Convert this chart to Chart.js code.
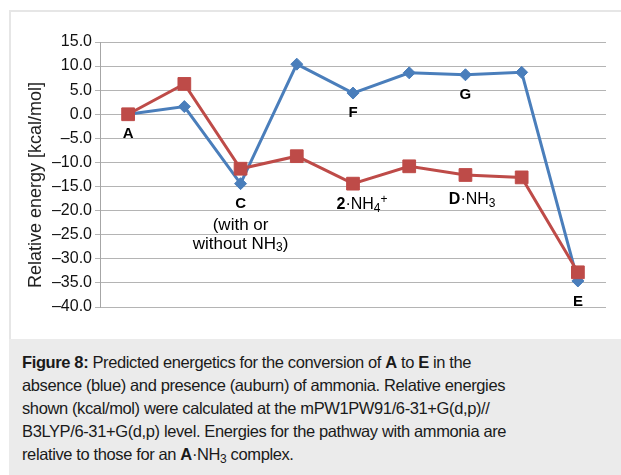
<!DOCTYPE html>
<html>
<head>
<meta charset="utf-8">
<script src="https://cdn.jsdelivr.net/npm/chart.js@4/dist/chart.umd.min.js"></script>
<style>
  body { margin: 0; background: #fff; width: 621px; height: 475px; overflow: hidden; position: relative; font-family: "Liberation Sans", Arial, sans-serif; }
  .panel { position: absolute; left: 9px; top: 10px; width: 612px; height: 329px; border-top: 2px solid #e6e6e6; border-left: 2px solid #e6e6e6; box-sizing: border-box; background: #fff; }
  .wrap { position: absolute; left: 0; top: 0; width: 621px; height: 339px; }
  .caption { position: absolute; left: 9px; top: 339px; width: 612px; height: 136px; background: #ebebeb; box-sizing: border-box; padding: 12px 0 0 13px; font-size: 16.5px; letter-spacing: -0.38px; line-height: 23px; color: #1a1a1a; }
  .caption sub { font-size: 12px; line-height: 0; vertical-align: -3px; }
</style>
</head>
<body>
<div class="panel"></div>
<div class="wrap"><canvas id="chart" width="621" height="339"></canvas></div>
<div class="caption">
  <b>Figure 8:</b> Predicted energetics for the conversion of <b>A</b> to <b>E</b> in the<br>
  absence (blue) and presence (auburn) of ammonia. Relative energies<br>
  shown (kcal/mol) were calculated at the mPW1PW91/6-31+G(d,p)//<br>
  B3LYP/6-31+G(d,p) level. Energies for the pathway with ammonia are<br>
  relative to those for an <b>A</b>·NH<sub>3</sub> complex.
</div>
<script>
const steps = ['1', '2', '3', '4', '5', '6', '7', '8', '9'];
const withoutNH3 = [0, 1.6, -14.4, 10.4, 4.4, 8.6, 8.2, 8.7, -34.6];
const withNH3 = [0, 6.3, -11.3, -8.7, -14.4, -10.8, -12.6, -13.1, -32.8];
const yTicks = [15, 10, 5, 0, -5, -10, -15, -20, -25, -30, -35, -40];

// point labels: text runs [text, style], category index, value (kcal/mol) of the text centre
const labelRuns = [
  [['A', 'b']],
  [['C', 'b']],
  [['(with or', '']],
  [['without NH', ''], ['3', 'sub'], [')', '']],
  [['F', 'b']],
  [['G', 'b']],
  [['2', 'b'], ['·NH', ''], ['4', 'sub'], ['+', 'sup']],
  [['D', 'b'], ['·NH', ''], ['3', 'sub']],
  [['E', 'b']]
];
const labelSize = [15, 15, 17, 17, 15, 15, 16, 16, 15];
const labelIndex = [0, 2, 2, 2, 4, 6, 4.16, 6.12, 8];
const labelValue = [-4.0, -18.6, -23.1, -26.9, 0.35, 4.1, -18.8, -17.7, -38.95];

const FONT = '"Liberation Sans", Arial, sans-serif';

const pointLabels = {
  id: 'pointLabels',
  afterDatasetsDraw(chart) {
    const ctx = chart.ctx;
    const xs = chart.scales.x, ys = chart.scales.y;
    const fontFor = (s, size) => (s === 'b' ? 'bold ' + size : (s === 'sub' || s === 'sup') ? Math.round(size * 0.72) : size) + 'px ' + FONT;
    ctx.save();
    ctx.fillStyle = '#000';
    ctx.textBaseline = 'middle';
    ctx.textAlign = 'left';
    labelRuns.forEach((runs, i) => {
      const size = labelSize[i];
      let w = 0;
      runs.forEach(r => { ctx.font = fontFor(r[1], size); w += ctx.measureText(r[0]).width; });
      let x = xs.getPixelForValue(labelIndex[i]) - w / 2;
      const y = ys.getPixelForValue(labelValue[i]);
      runs.forEach(r => {
        ctx.font = fontFor(r[1], size);
        const dy = r[1] === 'sub' ? 4 : r[1] === 'sup' ? -5 : 0;
        ctx.fillText(r[0], x, y + dy);
        x += ctx.measureText(r[0]).width;
      });
    });
    // y axis title
    ctx.translate(36, 185);
    ctx.rotate(-Math.PI / 2);
    ctx.textAlign = 'center';
    ctx.font = '18px ' + FONT;
    ctx.fillStyle = '#222';
    ctx.fillText('Relative energy [kcal/mol]', 0, 0);
    ctx.restore();
  }
};

new Chart(document.getElementById('chart').getContext('2d'), {
  type: 'line',
  data: {
    labels: steps,
    datasets: [{
      label: 'with ammonia',
      data: withNH3,
      borderColor: '#be4b48',
      backgroundColor: '#be4b48',
      borderWidth: 3,
      pointStyle: 'rect',
      pointRadius: 9,
      pointBorderWidth: 1,
      tension: 0,
      order: 0
    }, {
      label: 'without ammonia',
      data: withoutNH3,
      borderColor: '#4a7ebb',
      backgroundColor: '#4a7ebb',
      borderWidth: 3,
      pointStyle: 'rectRot',
      pointRadius: 6,
      pointBorderWidth: 1,
      tension: 0,
      order: 1
    }]
  },
  options: {
    responsive: false,
    animation: false,
    layout: { padding: { left: 0, right: 15, top: 42, bottom: 32 } },
    plugins: { legend: { display: false }, tooltip: { enabled: false } },
    scales: {
      x: { display: false, offset: true, grid: { display: false } },
      y: {
        min: -40,
        max: 15,
        afterFit(scale) { scale.width = 100; },
        afterBuildTicks(scale) { scale.ticks = yTicks.map(v => ({ value: v })); },
        border: { color: '#a6a6a6', width: 1 },
        grid: { color: '#b4b4b4', lineWidth: 1, tickLength: 5 },
        ticks: {
          padding: 3,
          color: '#111',
          font: { family: FONT, size: 16 },
          callback: v => v.toFixed(1).replace('-', '\u2013')
        }
      }
    }
  },
  plugins: [pointLabels]
});
</script>
</body>
</html>
